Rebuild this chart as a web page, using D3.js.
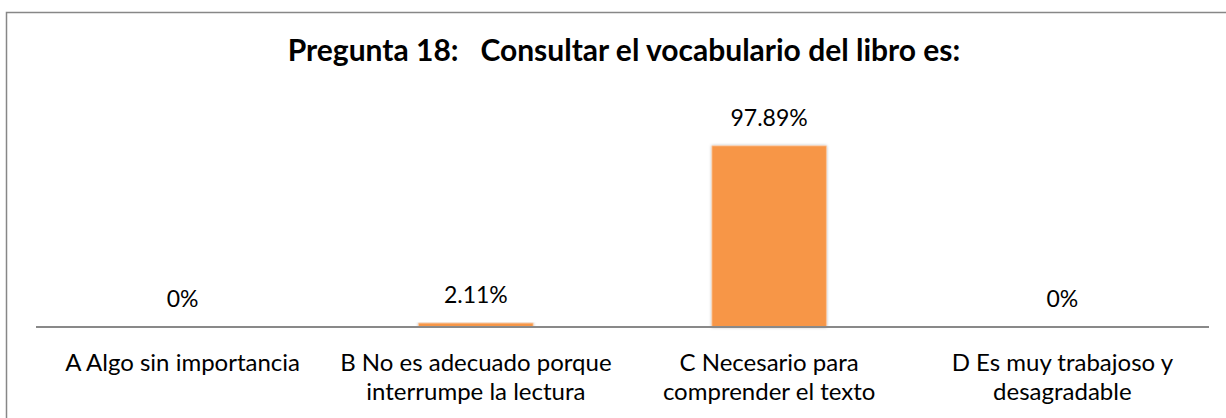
<!DOCTYPE html>
<html>
<head>
<meta charset="utf-8">
<script src="https://cdn.jsdelivr.net/npm/d3@7"></script>
<style>
  body { margin: 0; background: #fff; }
  svg { display: block; font-family: Lato, 'Liberation Sans', sans-serif; }
</style>
</head>
<body>
<div id="chart"></div>
<script>
// Chart data
var title = 'Pregunta 18:   Consultar el vocabulario del libro es:';
var categories = ['A', 'B', 'C', 'D'];
var categoryLabels = [
  ['A Algo sin importancia'],
  ['B No es adecuado porque', 'interrumpe la lectura'],
  ['C Necesario para', 'comprender el texto'],
  ['D Es muy trabajoso y', 'desagradable']
];
var values = [0, 2.11, 97.89, 0];
var valueLabels = ['0%', '2.11%', '97.89%', '0%'];

var width = 1226;
var height = 418;
var margins = { left: 36, right: 17, top: 105, bottom: 91 };
var fontFamily = 'Lato, "Liberation Sans", sans-serif';

var svg = d3.select('#chart').append('svg')
            .attr('width', width)
            .attr('height', height);

// soft shadow under the bars, like the office chart
var defs = svg.append('defs');
var shadow = defs.append('filter').attr('id', 'barShadow')
                 .attr('x', '-20%').attr('y', '-20%')
                 .attr('width', '140%').attr('height', '140%');
shadow.append('feDropShadow')
      .attr('dx', 0).attr('dy', 0)
      .attr('stdDeviation', 1.6)
      .attr('flood-color', '#000')
      .attr('flood-opacity', 0.28);

svg.append('rect')
   .attr('width', width).attr('height', height)
   .style('fill', '#fff');

// chart frame (its right and bottom edges are outside the picture)
svg.append('rect')
   .attr('x', 6.5).attr('y', 12.5)
   .attr('width', width + 10).attr('height', height + 10)
   .style('fill', 'none')
   .style('stroke', '#878787')
   .style('stroke-width', 1.5);

svg.append('text')
   .attr('x', 624)
   .attr('y', 61)
   .attr('text-anchor', 'middle')
   .style('font-family', fontFamily)
   .style('font-weight', 'bold')
   .style('font-size', '30px')
   .style('white-space', 'pre')
   .style('fill', '#000')
   .text(title);

var x = d3.scaleBand()
          .domain(categories)
          .range([margins.left, width - margins.right])
          .paddingInner(0.61)
          .paddingOuter(0.305);

var y = d3.scaleLinear()
          .domain([0, 120])
          .range([height - margins.bottom, margins.top]);

var data = categories.map(function(c, i) {
  return { cat: c, value: values[i], label: valueLabels[i], lines: categoryLabels[i] };
});

// bars
svg.append('g').selectAll('rect')
   .data(data)
   .enter().append('rect')
   .attr('x', function(d) { return x(d.cat); })
   .attr('width', x.bandwidth())
   .attr('y', function(d) { return y(d.value); })
   .attr('height', function(d) { return y(0) - y(d.value); })
   .style('fill', '#F79646')
   .style('stroke', '#fbc49a')
   .style('stroke-width', 0.8)
   .attr('filter', function(d) { return d.value > 0 ? 'url(#barShadow)' : null; });

// value labels above the bars
svg.append('g').selectAll('text')
   .data(data)
   .enter().append('text')
   .attr('x', function(d) { return x(d.cat) + x.bandwidth() / 2; })
   .attr('y', function(d) { return y(d.value) - 20; })
   .attr('text-anchor', 'middle')
   .style('font-family', fontFamily)
   .style('font-size', '23px')
   .style('fill', '#000')
   .text(function(d) { return d.label; });

// category axis
var xAxis = d3.axisBottom(x).tickSize(0).tickPadding(0).tickFormat('');
var axisG = svg.append('g')
               .attr('transform', 'translate(0,' + y(0) + ')')
               .call(xAxis);
axisG.select('.domain')
     .attr('d', 'M' + margins.left + ',0H' + (width - margins.right))
     .style('stroke', '#898989')
     .style('stroke-width', 2);

axisG.selectAll('.tick text').remove();
axisG.selectAll('.tick')
     .append('text')
     .attr('text-anchor', 'middle')
     .style('font-family', fontFamily)
     .style('font-size', '24px')
     .style('fill', '#000')
     .each(function(c) {
       var lines = categoryLabels[categories.indexOf(c)];
       var t = d3.select(this);
       lines.forEach(function(line, i) {
         t.append('tspan')
          .attr('x', 0)
          .attr('y', 44 + i * 29)
          .text(line);
       });
     });
</script>
</body>
</html>
